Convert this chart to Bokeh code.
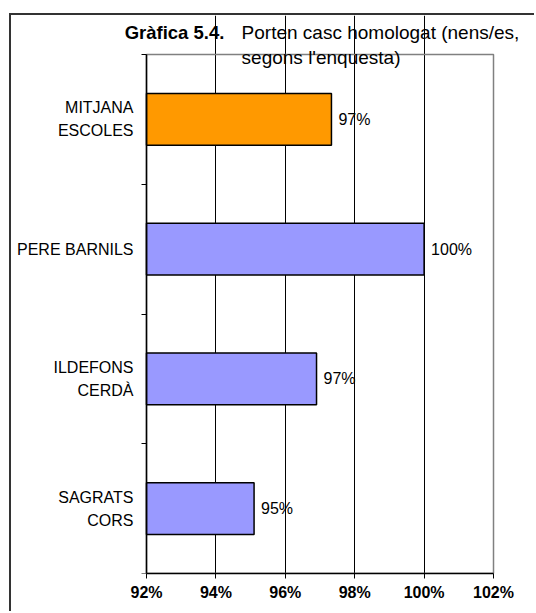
from bokeh.plotting import figure
from bokeh.models import ColumnDataSource, FixedTicker, PrintfTickFormatter, Range1d, Label
from bokeh.core.properties import value
from bokeh.embed import file_html
from bokeh.resources import INLINE

# Data (top to bottom as in the chart)
categories = ["MITJANA\nESCOLES", "PERE BARNILS", "ILDEFONS\nCERDÀ", "SAGRATS\nCORS"]
values = [97.33, 100.0, 96.9, 95.1]
colors = ["#FF9900", "#9999FF", "#9999FF", "#9999FF"]
x_ticks = [92, 94, 96, 98, 100, 102]
title_bold = "Gràfica 5.4."
title_line1 = "Porten casc homologat (nens/es,"
title_line2 = "segons l'enquesta)"

n = len(categories)
ypos = [n - i - 0.5 for i in range(n)]
labels = [f"{round(v)}%" for v in values]
x0, x1 = x_ticks[0], x_ticks[-1]

src = ColumnDataSource(dict(y=ypos, v=values, c=colors, lab=labels))

FONT = "Liberation Sans"

p = figure(width=525, height=598, output_backend="svg", toolbar_location=None,
           x_range=Range1d(88.1095, 103.239), y_range=Range1d(0, n + 0.3006),
           min_border_left=0, min_border_right=0, min_border_top=0, min_border_bottom=40,
           background_fill_color="white", border_fill_color="white",
           outline_line_color=None,
           styles={"margin-top": "13px", "margin-left": "9px",
                   "border-top": "2px solid #333333", "border-left": "2px solid #333333"})

# plot-area border (grey, top & right visible)
p.quad(left=[x0], right=[x1], bottom=[0], top=[n], fill_color=None,
       line_color="#808080", line_width=1.5)

p.xgrid.ticker = FixedTicker(ticks=x_ticks[1:-1])
p.xgrid.grid_line_color = "black"
p.xgrid.grid_line_width = 1
p.xgrid.bounds = (0, n)
p.ygrid.grid_line_color = None

p.hbar(y="y", right="v", left=x0, height=0.4, fill_color="c", line_color="black",
       line_width=1.5, source=src)
p.text(x="v", y="y", text="lab", x_offset=7, text_baseline="middle", text_align="left",
       text_font=value(FONT), text_font_size="16px", text_color="black", source=src)

# x axis
p.xaxis.bounds = (x0, x1)
p.xaxis.ticker = FixedTicker(ticks=x_ticks)
p.xaxis.formatter = PrintfTickFormatter(format="%d%%")
p.xaxis.major_label_text_font = FONT
p.xaxis.major_label_text_font_style = "bold"
p.xaxis.major_label_text_font_size = "16px"
p.xaxis.major_label_text_color = "black"
p.xaxis.major_tick_out = 5
p.xaxis.major_tick_in = 0
p.xaxis.minor_tick_out = 0
p.xaxis.minor_tick_in = 0
p.xaxis.axis_line_color = "black"
p.xaxis.axis_line_width = 1.5
p.xaxis.major_tick_line_color = "black"
p.xaxis.major_label_standoff = 5

# y axis (fixed at the left edge of the value scale)
p.yaxis.fixed_location = x0
p.yaxis.bounds = (0, n)
p.yaxis.ticker = FixedTicker(ticks=ypos, minor_ticks=[float(i) for i in range(n + 1)])
p.yaxis.major_label_overrides = {y: c for y, c in zip(ypos, categories)}
p.yaxis.major_label_text_font = FONT
p.yaxis.major_label_text_font_size = "16px"
p.yaxis.major_label_text_line_height = 1.35
p.yaxis.major_label_text_color = "black"
p.yaxis.major_tick_out = 0
p.yaxis.major_tick_in = 0
p.yaxis.minor_tick_out = 5
p.yaxis.minor_tick_in = 0
p.yaxis.minor_tick_line_color = "black"
p.yaxis.axis_line_color = "black"
p.yaxis.axis_line_width = 1.5
p.yaxis.major_label_standoff = 8

# Title
p.add_layout(Label(x=91.37, y=4.170, text=title_bold, text_font=FONT, text_font_style="bold",
                   text_font_size="18.5px", text_color="black", text_baseline="alphabetic"))
p.add_layout(Label(x=94.74, y=4.170, text=title_line1, text_font=FONT,
                   text_font_size="19px", text_color="black", text_baseline="alphabetic"))
p.add_layout(Label(x=97.03, y=3.977, text=title_line2, text_font=FONT, text_align="center",
                   text_font_size="19px", text_color="black", text_baseline="alphabetic"))

open("out.html", "w").write(file_html(p, INLINE))
